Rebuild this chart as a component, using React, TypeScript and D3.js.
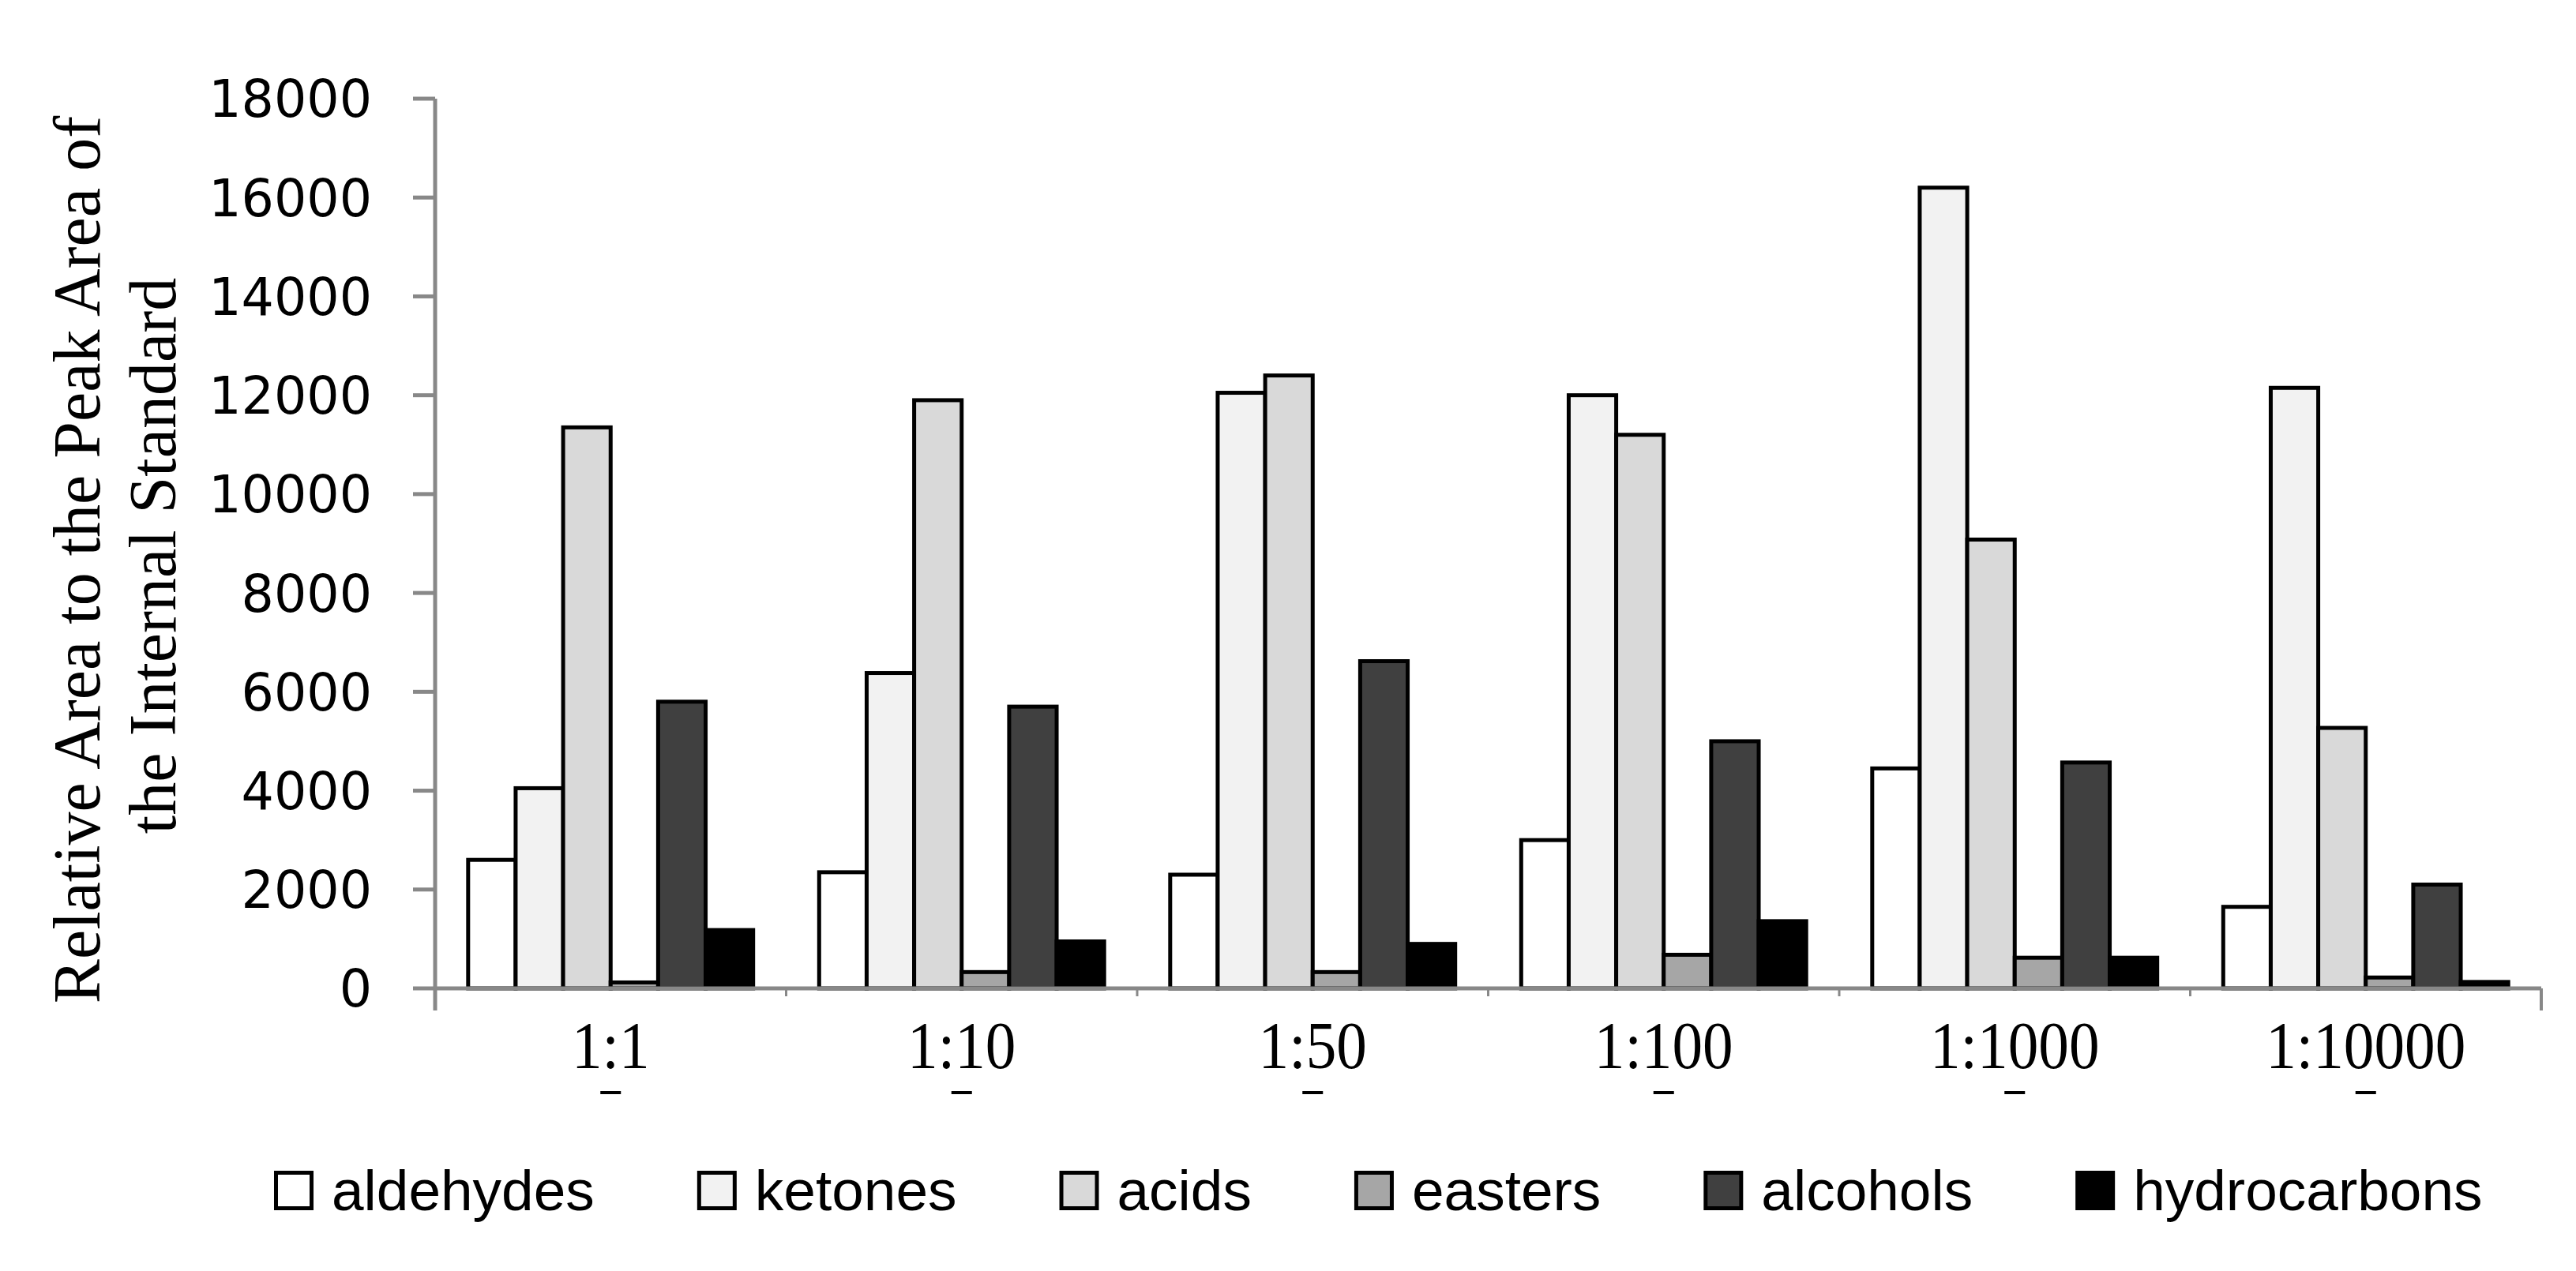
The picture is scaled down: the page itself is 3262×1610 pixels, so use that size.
import React, { useEffect, useRef } from 'react';
import * as d3 from 'd3';

const categories = ['1:1', '1:10', '1:50', '1:100', '1:1000', '1:10000'];
const seriesNames = ['aldehydes', 'ketones', 'acids', 'easters', 'alcohols', 'hydrocarbons'];
const aldehydes = [2600, 2350, 2300, 3000, 4450, 1650];
const ketones = [4050, 6380, 12050, 12000, 16200, 12150];
const acids = [11350, 11900, 12400, 11200, 9080, 5270];
const easters = [120, 330, 330, 680, 620, 220];
const alcohols = [5800, 5700, 6620, 5000, 4570, 2100];
const hydrocarbons = [1180, 950, 900, 1360, 620, 130];
const yTicks = [0, 2000, 4000, 6000, 8000, 10000, 12000, 14000, 16000, 18000];

const seriesValues = [aldehydes, ketones, acids, easters, alcohols, hydrocarbons];
const fills = ['#ffffff', '#f2f2f2', '#d9d9d9', '#a6a6a6', '#404040', '#000000'];

const W = 3262;
const H = 1610;

const App: React.FC = () => {
  const svgRef = useRef<SVGSVGElement>(null);

  useEffect(() => {
    document.body.style.margin = '0';
    if (!svgRef.current) return;
    const svg = d3.select(svgRef.current);
    svg.selectAll('*').remove();

    const left = 551;
    const right = 3218;
    const top = 125;
    const zeroY = 1252;
    const axisColor = '#888888';

    const x0 = d3.scaleBand<string>().domain(categories).range([left, right]);
    const x1 = d3.scaleBand<string>()
      .domain(seriesNames)
      .range([0, x0.bandwidth()])
      .paddingInner(0)
      .paddingOuter(0.695);
    const y = d3.scaleLinear().domain([0, 18000]).range([zeroY, top]);

    svg.append('rect').attr('width', W).attr('height', H).attr('fill', '#ffffff');

    // bars
    const groups = svg.append('g').selectAll('g')
      .data(categories)
      .join('g')
      .attr('transform', d => `translate(${x0(d)},0)`);

    groups.selectAll('rect')
      .data((_, ci) => seriesNames.map((s, si) => ({ s, si, v: seriesValues[si][ci] })))
      .join('rect')
      .attr('x', d => x1(d.s)!)
      .attr('width', x1.step())
      .attr('y', d => y(d.v))
      .attr('height', d => zeroY - y(d.v))
      .attr('fill', d => fills[d.si])
      .attr('stroke', '#000')
      .attr('stroke-width', 5);

    // y axis
    svg.append('line')
      .attr('x1', left).attr('x2', left)
      .attr('y1', top).attr('y2', zeroY + 28)
      .attr('stroke', axisColor).attr('stroke-width', 5);

    svg.append('g').selectAll('line')
      .data(yTicks)
      .join('line')
      .attr('x1', left - 28).attr('x2', left)
      .attr('y1', d => y(d)).attr('y2', d => y(d))
      .attr('stroke', axisColor).attr('stroke-width', 5);

    svg.append('g').selectAll('text')
      .data(yTicks)
      .join('text')
      .attr('x', 471)
      .attr('y', d => y(d))
      .attr('dy', '0.36em')
      .attr('text-anchor', 'end')
      .attr('font-family', 'DejaVu Sans, sans-serif')
      .attr('font-size', 65)
      .attr('fill', '#000')
      .text(d => d);

    // x axis
    svg.append('line')
      .attr('x1', left).attr('x2', right)
      .attr('y1', zeroY).attr('y2', zeroY)
      .attr('stroke', axisColor).attr('stroke-width', 5);

    svg.append('g').selectAll('line')
      .data(categories.slice(1))
      .join('line')
      .attr('x1', d => x0(d)!).attr('x2', d => x0(d)!)
      .attr('y1', zeroY).attr('y2', zeroY + 10)
      .attr('stroke', axisColor).attr('stroke-width', 3);

    svg.append('line')
      .attr('x1', right).attr('x2', right)
      .attr('y1', zeroY).attr('y2', zeroY + 28)
      .attr('stroke', axisColor).attr('stroke-width', 4);

    // category labels
    svg.append('g').selectAll('text')
      .data(categories)
      .join('text')
      .attr('transform', d => `translate(${x0(d)! + x0.bandwidth() / 2},1353) scale(0.92,1)`)
      .attr('text-anchor', 'middle')
      .attr('font-family', 'Liberation Serif, Times New Roman, serif')
      .attr('font-size', 84)
      .attr('fill', '#000')
      .text(d => d);

    // small stray marks under the labels
    svg.append('g').selectAll('rect')
      .data(categories)
      .join('rect')
      .attr('x', d => x0(d)! + x0.bandwidth() / 2 - 13)
      .attr('y', 1382)
      .attr('width', 26)
      .attr('height', 4)
      .attr('fill', '#000');

    // y axis title
    const title = svg.append('g')
      .attr('font-family', 'Liberation Serif, Times New Roman, serif')
      .attr('font-size', 84)
      .attr('fill', '#000')
      .attr('text-anchor', 'middle');
    title.append('text')
      .attr('transform', 'translate(126,709) rotate(-90)')
      .text('Relative Area to the Peak Area of');
    title.append('text')
      .attr('transform', 'translate(222,704) rotate(-90)')
      .text('the Internal Standard');

    // legend
    const legend = svg.append('g');
    let lx = 347;
    const boxTop = 1483;
    const box = 50;
    seriesNames.forEach((name, i) => {
      legend.append('rect')
        .attr('x', lx + 2.5).attr('y', boxTop + 2.5)
        .attr('width', box - 5).attr('height', box - 5)
        .attr('fill', fills[i])
        .attr('stroke', '#000')
        .attr('stroke-width', 5);
      const t = legend.append('text')
        .attr('x', lx + box + 23)
        .attr('y', 1533)
        .attr('font-family', 'Liberation Sans, Arial, sans-serif')
        .attr('font-size', 73)
        .attr('fill', '#000')
        .text(name);
      const w = (t.node() as SVGTextElement).getComputedTextLength();
      lx = lx + box + 23 + w + 130;
    });
  }, []);

  return <svg ref={svgRef} width={W} height={H} style={{ display: 'block' }} />;
};

export default App;
